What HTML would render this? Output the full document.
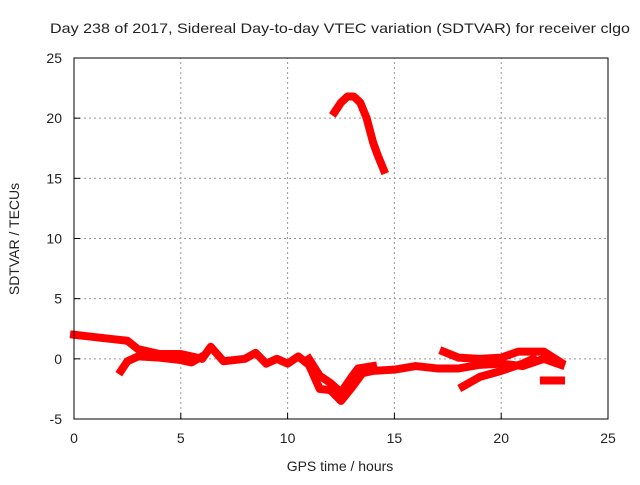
<!DOCTYPE html>
<html><head><meta charset="utf-8"><style>
body{margin:0;background:#fff}
svg text{font-family:"Liberation Sans",sans-serif;font-size:14px;fill:#222}
</style></head><body>
<svg id="c" width="640" height="480" xmlns="http://www.w3.org/2000/svg">
<text x="50" y="33" textLength="580" lengthAdjust="spacingAndGlyphs">Day 238 of 2017, Sidereal Day-to-day VTEC variation (SDTVAR) for receiver clgo</text>
<text x="340" y="471" text-anchor="middle">GPS time / hours</text>
<text transform="translate(19,239) rotate(-90)" text-anchor="middle">SDTVAR / TECUs</text>
<g id="grid"></g><g id="marks"></g><g id="axes"></g>
</svg>
<script>
const xTicks=[0,5,10,15,20,25];
const yTicks=[-5,0,5,10,15,20,25];
const seriesA=[[0,2],[1,1.8],[2,1.6],[2.5,1.5],[3,0.8],[4,0.4],[5,0.4],[6,0],[6.4,1],[7,-0.2],[8,0],[8.5,0.5],[9,-0.4],[9.5,0],[10,-0.4],[10.5,0.2],[11,-0.5],[11.5,-2.5],[12,-2.6],[12.5,-3.5],[13,-2.4],[13.5,-1.2],[14,-1],[15,-0.9],[16,-0.6],[17,-0.8],[18,-0.8],[19,-0.5],[20,-0.4],[21,-0.6],[22,0],[22.8,-0.5]];
const seriesB=[[2.2,-1],[2.5,-0.2],[3,0.2],[4,0.1],[5,-0.1],[5.5,-0.3],[6,0.2]];
const seriesC=[[17.3,0.6],[18,0.1],[19,0],[20,0.1],[20.8,0.6],[22,0.6],[22.8,-0.3]];
const seriesD=[[18.2,-2.3],[19,-1.5],[20,-1],[21,-0.4],[21.5,0]];
const seriesE=[[22,-1.8],[22.8,-1.8]];
const seriesF=[[11,0],[11.5,-1.4],[12,-2],[12.5,-2.8],[13,-1.5],[13.3,-0.8],[14,-0.6]];
const seriesG=[[12.2,20.5],[12.5,21.3],[12.8,21.8],[13.1,21.8],[13.4,21.3],[13.7,20],[14,18],[14.2,17],[14.5,15.7]];
const allSeries=[seriesA,seriesB,seriesC,seriesD,seriesE,seriesF,seriesG];
const X0=74,X1=608,Y0=419,Y1=58;
const xs=v=>X0+(v-0)/(25-0)*(X1-X0);
const ys=v=>Y0-(v+5)/30*(Y0-Y1);
const NS='http://www.w3.org/2000/svg';
function mk(t,p,a){const e=document.createElementNS(NS,t);for(const k in a)e.setAttribute(k,a[k]);p.appendChild(e);return e;}
const grid=document.getElementById('grid'),axes=document.getElementById('axes'),marks=document.getElementById('marks');
xTicks.forEach(t=>{const x=xs(t);
 if(t>0&&t<25){const l=mk('line',grid,{x1:x,x2:x,y1:Y0,y2:Y1,stroke:'#999','stroke-dasharray':'2,3'});}
 mk('line',axes,{x1:x,x2:x,y1:Y0,y2:Y0-6,stroke:'#000'});
 const lb=mk('text',axes,{x:x,y:Y0+24,'text-anchor':'middle'});lb.textContent=t;
 });
yTicks.forEach(t=>{const y=ys(t);
 if(t>-5&&t<25){const l=mk('line',grid,{x1:X0,x2:X1,y1:y,y2:y,stroke:'#999','stroke-dasharray':'2,3'});}
 mk('line',axes,{x1:X0,x2:X0+6,y1:y,y2:y,stroke:'#000'});
 const lb=mk('text',axes,{x:X0-12,y:y+5,'text-anchor':'end'});lb.textContent=t;
 });
const fr=mk('rect',axes,{x:X0,y:Y1,width:X1-X0,height:Y0-Y1,fill:'none',stroke:'#000'});

allSeries.forEach(s=>{const p=mk('polyline',marks,{points:s.map(d=>xs(d[0])+','+ys(d[1])).join(' '),fill:'none',stroke:'#f00','stroke-width':8,'stroke-linejoin':'round','stroke-linecap':'square'});
 });
</script>
</body></html>
